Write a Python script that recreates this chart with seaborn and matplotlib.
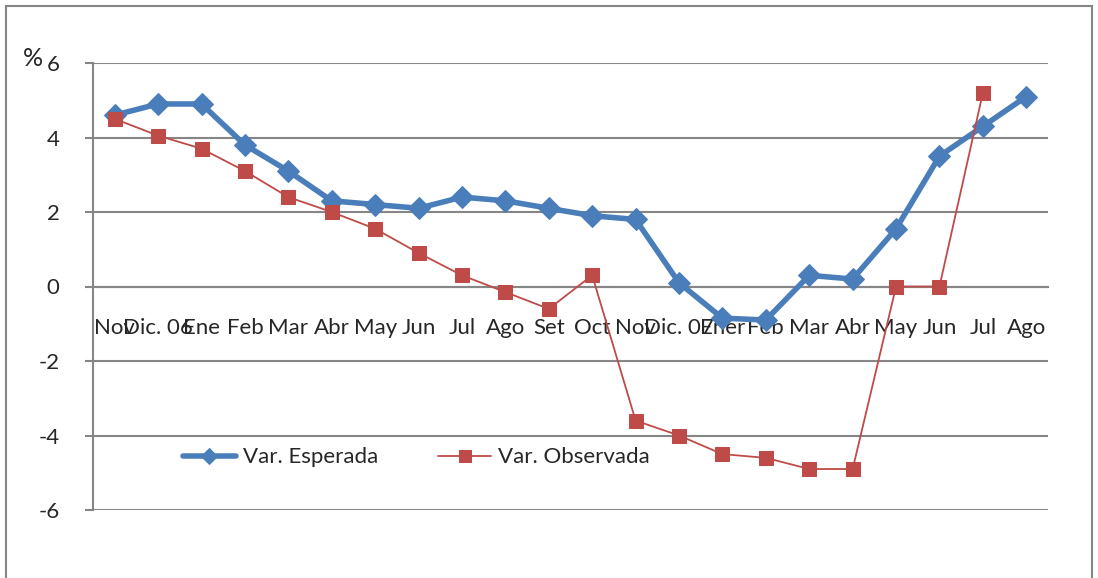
import numpy as np
import pandas as pd
import matplotlib
matplotlib.use("Agg")
import matplotlib.pyplot as plt
import seaborn as sns
from matplotlib.patches import Rectangle

# Datos
meses = ["Nov", "Dic. 06", "Ene", "Feb", "Mar", "Abr", "May", "Jun", "Jul", "Ago", "Set",
         "Oct", "Nov", "Dic. 07", "Ener", "Feb", "Mar", "Abr", "May", "Jun", "Jul", "Ago"]
var_esperada = [4.6, 4.9, 4.9, 3.8, 3.1, 2.3, 2.2, 2.1, 2.4, 2.3, 2.1,
                1.9, 1.8, 0.1, -0.85, -0.9, 0.3, 0.2, 1.55, 3.5, 4.3, 5.1]
var_observada = [4.5, 4.05, 3.7, 3.1, 2.4, 2.0, 1.55, 0.9, 0.3, -0.15, -0.6,
                 0.3, -3.6, -4.0, -4.5, -4.6, -4.9, -4.9, 0.0, 0.0, 5.2, np.nan]

df = pd.DataFrame({
    "idx": range(len(meses)),
    "esperada": var_esperada,
    "observada": var_observada,
})

sns.set_style("white")
plt.rcParams["font.family"] = ["Lato", "DejaVu Sans"]

W, H = 1098, 578
fig = plt.figure(figsize=(W / 100, H / 100), dpi=100)
ax = fig.add_axes([93 / W, 1 - 510 / H, 955 / W, 447 / H])

azul = "#4a7ebb"
rojo = "#be4b48"
gris = "#868686"

sns.lineplot(data=df, x="idx", y="esperada", ax=ax, color=azul, linewidth=4,
             marker="D", markersize=11, markeredgecolor=azul, label="Var. Esperada",
             sort=False, zorder=3)
sns.lineplot(data=df.dropna(), x="idx", y="observada", ax=ax, color=rojo, linewidth=1.3,
             marker="s", markersize=10, markeredgecolor=rojo, label="Var. Observada",
             sort=False, zorder=4)

ax.set_xlim(-0.5, len(meses) - 0.5)
ax.set_ylim(-6, 6)
ax.set_yticks([-6, -4, -2, 0, 2, 4, 6])
ax.set_yticklabels(["-6", "-4", "-2", "0", "2", "4", "6"], fontsize=16)
ax.yaxis.grid(True, color=gris, linewidth=1.5)
ax.set_axisbelow(True)

# eje x en el cero, marcas entre categorias
ax.spines["bottom"].set_position(("data", 0))
ax.spines["bottom"].set_color(gris)
ax.spines["bottom"].set_linewidth(1.5)
ax.spines["left"].set_color(gris)
ax.spines["left"].set_linewidth(1.5)
ax.spines["top"].set_visible(False)
ax.spines["right"].set_visible(False)

ax.set_xticks(np.arange(len(meses)))
ax.set_xticklabels(meses, fontsize=16)
ax.set_xticks(np.arange(len(meses) + 1) - 0.5, minor=True)
ax.tick_params(axis="x", which="major", length=0, pad=23)
ax.tick_params(axis="x", which="minor", length=6, width=1.5, color=gris, direction="out")
ax.tick_params(axis="y", length=6, width=1.5, color=gris, direction="out", pad=18, left=True)
ax.set_xlabel("")
ax.set_ylabel("")

leg = ax.legend(loc="upper left", bbox_to_anchor=(0.073, 0.185), ncol=2, frameon=False,
                fontsize=16, handlelength=2.4, columnspacing=2.7, handletextpad=0.3)
for h in leg.legend_handles:
    h.set_markersize(8)

fig.text(33 / W, 1 - 58 / H, "%", fontsize=18, ha="center", va="center")

# marco exterior
fig.patches.append(Rectangle((6 / W, -0.05), (1092 - 6) / W, 1.05 - 6 / H,
                             transform=fig.transFigure, fill=False,
                             edgecolor=gris, linewidth=1.5))

fig.savefig("out.png", dpi=100)
